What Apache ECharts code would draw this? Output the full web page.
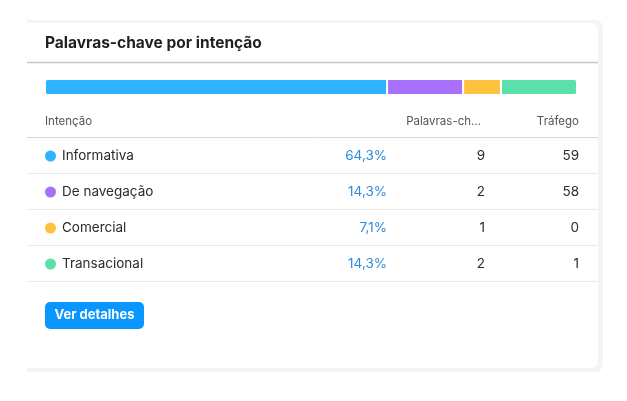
<!DOCTYPE html>
<html>
<head>
<meta charset="utf-8">
<script src="https://cdn.jsdelivr.net/npm/echarts@6/dist/echarts.min.js"></script>
<style>
	html, body {margin: 0; padding: 0; background: #fff;}
	#chart {width: 627px; height: 401px;}
</style>
</head>
<body>
<div id="chart"></div>
<script>
// data
let intents = ['Informativa', 'De navegação', 'Comercial', 'Transacional'];
let shares = [64.3, 14.3, 7.1, 14.3];
let keywords = [9, 2, 1, 2];
let traffic = [59, 58, 0, 1];
let colors = ['#2db3ff', '#a970fd', '#ffc23d', '#5bdfab'];
let headers = ['Intenção', 'Palavras-ch...', 'Tráfego'];

let font = 'Inter, "Noto Sans", sans-serif';
let rowTop = 138;
let rowH = 36;

let fmtPct = (v) => v.toFixed(1).replace('.', ',') + '%';

let graphics = [
	// card background + border/shadow band
	{type: 'rect', z: -10, shape: {x: 27, y: 20, width: 576, height: 352, r: [0, 8, 8, 0]}, style: {fill: '#f3f4f8'}},
	{type: 'rect', z: -9, shape: {x: 27, y: 23, width: 571, height: 345, r: [0, 7, 7, 0]}, style: {fill: '#fff'}},
	{type: 'text', x: 45, y: 43, style: {text: 'Palavras-chave por intenção', font: 'bold 15.5px ' + font, fill: '#1f1f24', verticalAlign: 'middle'}},
	{type: 'line', shape: {x1: 27, y1: 62.5, x2: 598, y2: 62.5}, style: {stroke: '#c6c6d0', lineWidth: 1.5}},
	// table header
	{type: 'text', x: 45, y: 122, style: {text: headers[0], font: '11.5px ' + font, fill: '#555', verticalAlign: 'middle'}},
	{type: 'text', x: 481, y: 122, style: {text: headers[1], font: '11.5px ' + font, fill: '#555', align: 'right', verticalAlign: 'middle'}},
	{type: 'text', x: 579, y: 122, style: {text: headers[2], font: '11.5px ' + font, fill: '#555', align: 'right', verticalAlign: 'middle'}},
	{type: 'line', shape: {x1: 27, y1: rowTop - 0.5, x2: 598, y2: rowTop - 0.5}, style: {stroke: '#d6d6de', lineWidth: 1}},
];

intents.forEach((name, i) => {
	let cy = rowTop + rowH * i + rowH / 2;
	graphics.push(
		{type: 'circle', shape: {cx: 50.5, cy: cy, r: 5.5}, style: {fill: colors[i]}},
		{type: 'text', x: 62, y: cy, style: {text: name, font: '13.5px ' + font, fill: '#2b2b30', verticalAlign: 'middle'}},
		{type: 'text', x: 387, y: cy, style: {text: fmtPct(shares[i]), font: '13.5px ' + font, fill: '#2f8ae0', align: 'right', verticalAlign: 'middle'}},
		{type: 'text', x: 485, y: cy, style: {text: String(keywords[i]), font: '13.5px ' + font, fill: '#2b2b30', align: 'right', verticalAlign: 'middle'}},
		{type: 'text', x: 579, y: cy, style: {text: String(traffic[i]), font: '13.5px ' + font, fill: '#2b2b30', align: 'right', verticalAlign: 'middle'}},
		{type: 'line', shape: {x1: 27, y1: rowTop + rowH * (i + 1) - 0.5, x2: 598, y2: rowTop + rowH * (i + 1) - 0.5}, style: {stroke: '#e8e8ee', lineWidth: 1}},
	);
});

// button
graphics.push(
	{type: 'rect', shape: {x: 45, y: 302, width: 99, height: 27, r: 5}, style: {fill: '#0a96ff'}},
	{type: 'text', x: 94.5, y: 315.5, style: {text: 'Ver detalhes', font: 'bold 13px ' + font, fill: '#fff', align: 'center', verticalAlign: 'middle'}},
);

let last = intents.length - 1;
let chart = echarts.init(document.getElementById('chart'), null, {renderer: 'canvas'});
chart.setOption({
	animation: false,
	grid: {left: 45, right: 50, top: 79, height: 16},
	xAxis: {type: 'value', min: 0, max: 100, show: false},
	yAxis: {type: 'category', data: ['intent'], show: false},
	series: intents.map((name, i) => ({
		type: 'bar',
		name: name,
		stack: 'all',
		barWidth: 16,
		data: [shares[i]],
		itemStyle: {
			color: colors[i],
			borderColor: '#fff',
			borderWidth: 1,
			borderRadius: i === 0 ? [2, 0, 0, 2] : i === last ? [0, 2, 2, 0] : 0,
		},
	})),
	graphic: graphics,
});
</script>
</body>
</html>
